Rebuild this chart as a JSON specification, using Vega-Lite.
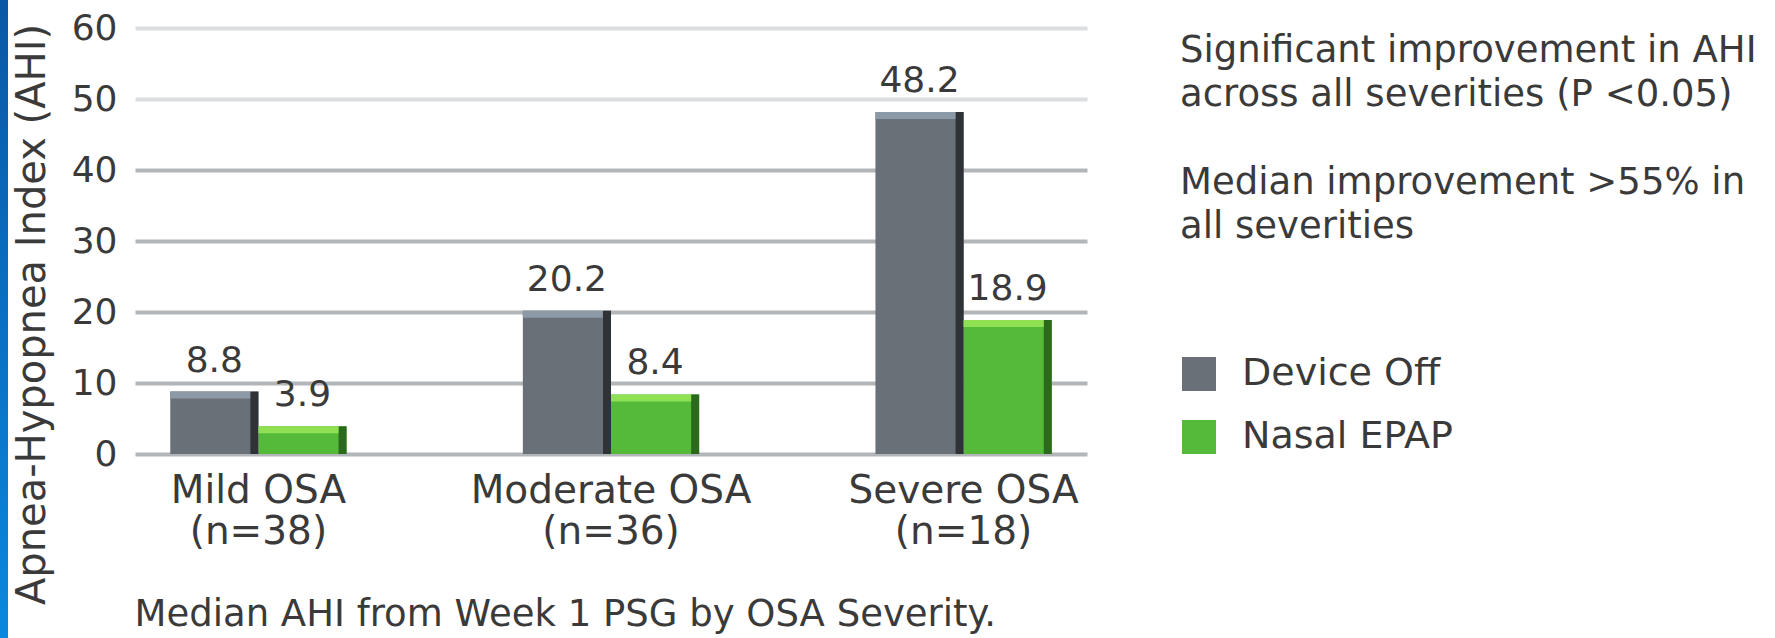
{
  "$schema": "https://vega.github.io/schema/vega-lite/v6.json",
  "padding": 0,
  "background": "white",
  "bounds": "flush",
  "spacing": 127,
  "config": {"view": {"stroke": null}, "font": "DejaVu Sans"},
  "datasets": {
    "edge": [{"strip": "left"}],
    "bars": [
      {"category": "Mild OSA|(n=38)", "series": "Device Off", "value": 8.8},
      {"category": "Mild OSA|(n=38)", "series": "Nasal EPAP", "value": 3.9},
      {"category": "Moderate OSA|(n=36)", "series": "Device Off", "value": 20.2},
      {"category": "Moderate OSA|(n=36)", "series": "Nasal EPAP", "value": 8.4},
      {"category": "Severe OSA|(n=18)", "series": "Device Off", "value": 48.2},
      {"category": "Severe OSA|(n=18)", "series": "Nasal EPAP", "value": 18.9}
    ]
  },
  "hconcat": [
    {
      "width": 8,
      "height": 638,
      "data": {"name": "edge"},
      "mark": {"type": "rect", "fill": {"gradient": "linear", "x1": 0, "y1": 0, "x2": 0, "y2": 1, "stops": [{"offset": 0, "color": "#0a58a6"}, {"offset": 1, "color": "#0a88de"}]}},
      "encoding": {}
    },
    {
      "width": 952,
      "height": 454,
      "data": {"name": "bars"},
      "encoding": {
        "x": {
          "field": "category", "type": "nominal", "sort": null,
          "scale": {"paddingInner": 0.5, "paddingOuter": 0.1},
          "axis": {
            "labelExpr": "split(datum.label, '|')",
            "labelAngle": 0, "labelFontSize": 39, "labelLineHeight": 41, "labelPadding": 17,
            "labelColor": "#3a3a3a", "labelLimit": 500,
            "ticks": false, "domain": false, "grid": false,
            "title": "Median AHI from Week 1 PSG by OSA Severity.",
            "titleFontSize": 37, "titleFontWeight": "normal", "titleColor": "#3a3a3a",
            "titleX": -1, "titleY": 171, "titleAlign": "left", "titleBaseline": "alphabetic"
          }
        },
        "y": {
          "field": "value", "type": "quantitative",
          "scale": {"domain": [0, 64], "nice": false},
          "axis": {
            "values": [0, 10, 20, 30, 40, 50, 60],
            "labelFontSize": 36, "labelPadding": 18, "labelColor": "#3a3a3a",
            "ticks": false, "domain": false, "grid": true, "gridWidth": 4,
            "gridColor": {"condition": {"test": "datum.value >= 50", "value": "#dcdddf"}, "value": "#b3b6b9"},
            "title": "Apnea-Hypopnea Index (AHI)",
            "titleFontSize": 40, "titleFontWeight": "normal", "titleColor": "#3a3a3a",
            "titleX": -103, "titleY": 314, "titleAngle": 270, "titleAlign": "center", "titleBaseline": "middle"
          }
        }
      },
      "layer": [
        {
          "mark": {"type": "bar"},
          "encoding": {
            "xOffset": {"field": "series", "type": "nominal", "sort": null, "scale": {"paddingInner": 0, "paddingOuter": 0}},
            "color": {
              "field": "series", "type": "nominal",
              "scale": {"domain": ["Device Off", "Nasal EPAP"], "range": ["#6a7078", "#55b93a"]},
              "legend": {
                "orient": "none", "legendX": 1180, "legendY": 33,
                "title": ["Significant improvement in AHI", "across all severities (P <0.05)", "\u200b", "Median improvement >55% in", "all severities"],
                "titleFontSize": 37, "titleFontWeight": "normal", "titleColor": "#3a3a3a",
                "titleLineHeight": 44, "titlePadding": 109, "titleLimit": 1000, "titleAnchor": "start", "titleAlign": "left",
                "labelFontSize": 38, "labelColor": "#3a3a3a", "labelLimit": 500, "labelOffset": 24,
                "symbolType": "square", "symbolSize": 1156, "symbolStrokeWidth": 0, "symbolOpacity": 1,
                "rowPadding": 25, "padding": 0
              }
            }
          }
        },
        {
          "transform": [{"filter": "datum.series === 'Device Off'"}],
          "mark": {"type": "rule", "strokeWidth": 8, "color": "#2f3337", "strokeCap": "butt"},
          "encoding": {
            "x": {"field": "category", "type": "nominal", "sort": null, "bandPosition": 0.4773},
            "y2": {"datum": 0}
          }
        },
        {
          "transform": [{"filter": "datum.series === 'Nasal EPAP'"}],
          "mark": {"type": "rule", "strokeWidth": 8, "color": "#2b6a1c", "strokeCap": "butt"},
          "encoding": {
            "x": {"field": "category", "type": "nominal", "sort": null, "bandPosition": 0.9773},
            "y2": {"datum": 0}
          }
        },
        {
          "transform": [{"filter": "datum.series === 'Device Off'"}],
          "mark": {"type": "rule", "strokeWidth": 7, "yOffset": 3.5, "color": "#8c99a6", "strokeCap": "butt"},
          "encoding": {
            "x": {"field": "category", "type": "nominal", "sort": null, "bandPosition": 0},
            "x2": {"field": "category", "bandPosition": 0.4538}
          }
        },
        {
          "transform": [{"filter": "datum.series === 'Nasal EPAP'"}],
          "mark": {"type": "rule", "strokeWidth": 7, "yOffset": 3.5, "color": "#8fe052", "strokeCap": "butt"},
          "encoding": {
            "x": {"field": "category", "type": "nominal", "sort": null, "bandPosition": 0.5},
            "x2": {"field": "category", "bandPosition": 0.9546}
          }
        },
        {
          "mark": {"type": "text", "baseline": "bottom", "dy": -12, "fontSize": 36, "fill": "#3a3a3a"},
          "encoding": {
            "xOffset": {"field": "series", "type": "nominal", "sort": null, "scale": {"paddingInner": 0, "paddingOuter": 0}},
            "text": {"field": "value", "type": "quantitative", "format": ".1f"}
          }
        }
      ]
    }
  ]
}
